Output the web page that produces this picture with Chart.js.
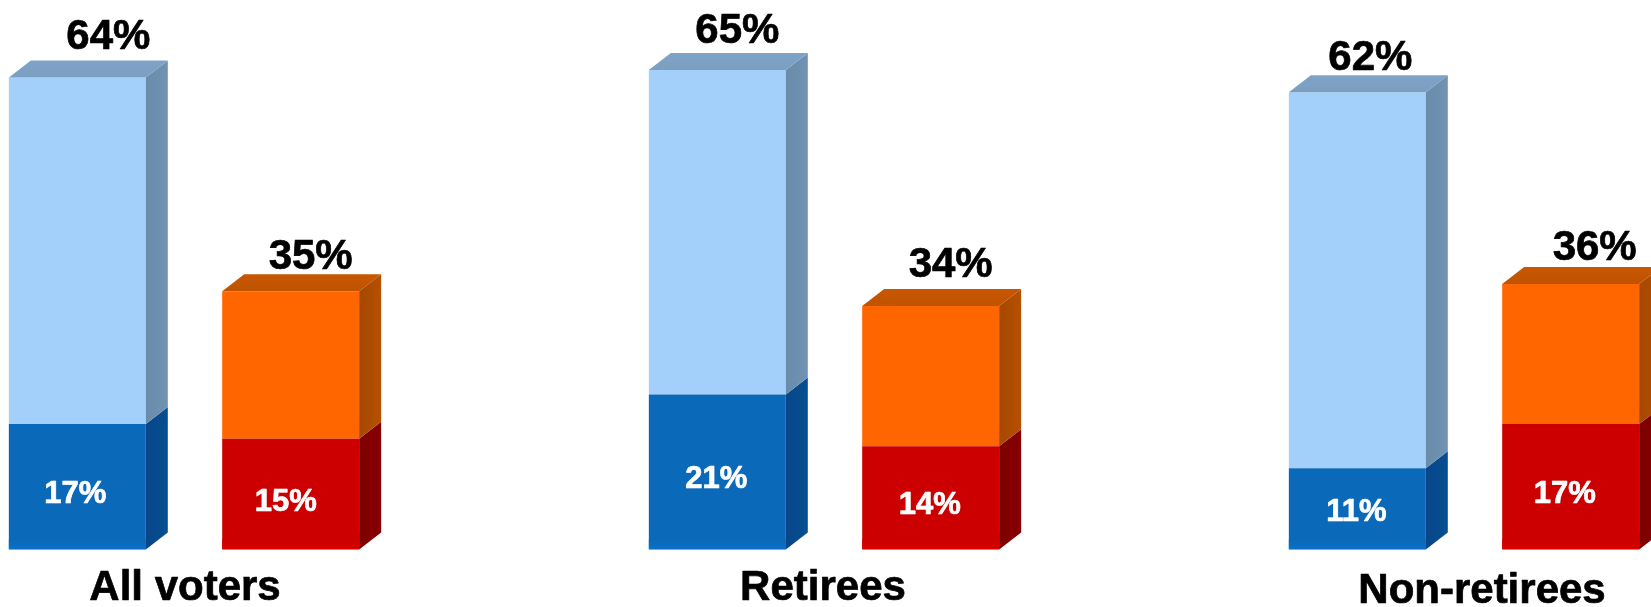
<!DOCTYPE html>
<html>
<head>
<meta charset="utf-8">
<title>Voters, retirees and non-retirees</title>
<script src="https://cdn.jsdelivr.net/npm/chart.js@4"></script>
<style>
    html, body { margin: 0; background: #fff; overflow: hidden; width: 1651px; height: 607px; }
    /* 3 slots of 640px: canvas is wider than the window so the last bar gets cut like the original */
    #chart { position: absolute; left: -136px; top: 0; }
</style>
</head>
<body>
<canvas id="chart" width="1920" height="607"></canvas>
<script>
const categories = ['All voters', 'Retirees', 'Non-retirees'];

// Bar segments as drawn
const blueStrong = [17, 21, 11];
const blueRest = [47, 44, 51];
const redStrong = [15, 14, 17];
const redRest = [20, 19, 19]; // the 34% bar stops a point short in the picture

// Printed totals above the bars
const blueTotals = [64, 65, 62];
const redTotals = [35, 34, 36];

// Small hand placed offsets of the printed labels, in px
const DEPTH_X = 22;
const DEPTH_Y = 17;
const totalNudge = {
    blue: [[31, -11], [20, -10], [13, -5]],
    red: [[20, -5], [20, -12], [24, -7]]
};
const innerNudge = {
    blue: [[-2, 8], [-1, 7], [-1, 4]],
    red: [[-5, 8], [-1, 8], [-6, 8]]
};
const categoryLabelPos = [[1, 600], [-1, 600], [18, 603]];

const faces = [
    { front: '#0a69b9', glow: '#0b70c8', side: ['#07468a', '#084e90'], top: ['#07498a', '#07498a'] },
    { front: '#a2d0fb', side: ['#6a8cab', '#7193b3'], top: ['#7ea3c8', '#7c9fc0'] },
    { front: '#cc0000', glow: '#d80200', side: ['#7c0000', '#880000'], top: ['#800000', '#800000'] },
    { front: '#ff6600', side: ['#a44800', '#b85000'], top: ['#c95700', '#bf5300'] }
];

const FONT = '"Liberation Sans", Arial, sans-serif';

function fillPoly(ctx, points, fill) {
    ctx.fillStyle = fill;
    ctx.beginPath();
    points.forEach((pt, n) => n ? ctx.lineTo(pt[0], pt[1]) : ctx.moveTo(pt[0], pt[1]));
    ctx.closePath();
    ctx.fill();
}

function ramp(ctx, x0, y0, x1, y1, from, to) {
    const g = ctx.createLinearGradient(x0, y0, x1, y1);
    g.addColorStop(0, from);
    g.addColorStop(1, to);
    return g;
}

// Chart.js has no 3D bars, so the side and top faces are added from the bar elements
const depthFaces = {
    id: 'depthFaces',
    afterDatasetsDraw(chart) {
        const ctx = chart.ctx;
        ctx.save();
        chart.data.datasets.forEach((ds, i) => {
            chart.getDatasetMeta(i).data.forEach(bar => {
                const p = bar.getProps(['x', 'y', 'base', 'width'], true);
                const x0 = p.x - p.width / 2;
                const x1 = p.x + p.width / 2;
                fillPoly(ctx, [
                    [x1, p.y], [x1 + DEPTH_X, p.y - DEPTH_Y],
                    [x1 + DEPTH_X, p.base - DEPTH_Y], [x1, p.base]
                ], ramp(ctx, x1, 0, x1 + DEPTH_X, 0, faces[i].side[0], faces[i].side[1]));
                if (i % 2 === 1) {
                    fillPoly(ctx, [
                        [x0, p.y], [x0 + DEPTH_X, p.y - DEPTH_Y],
                        [x1 + DEPTH_X, p.y - DEPTH_Y], [x1, p.y]
                    ], ramp(ctx, 0, p.y - DEPTH_Y, 0, p.y, faces[i].top[0], faces[i].top[1]));
                } else {
                    // brighter rim along the foot of the bar
                    ctx.fillStyle = ramp(ctx, 0, p.base - 10, 0, p.base, faces[i].front, faces[i].glow);
                    ctx.fillRect(x0, p.base - 10, p.width, 10);
                }
            });
        });
        ctx.restore();
    }
};

const barLabels = {
    id: 'barLabels',
    afterDraw(chart) {
        const ctx = chart.ctx;
        ctx.save();
        ctx.textAlign = 'center';
        ctx.lineJoin = 'round';

        const heavyText = (text, x, y, colour) => {
            ctx.fillStyle = colour;
            ctx.strokeStyle = colour;
            ctx.lineWidth = 0.7;
            ctx.fillText(text, x, y);
            ctx.strokeText(text, x, y);
        };

        const drawGroup = (key, innerIndex, topIndex, totals, strong) => {
            const inner = chart.getDatasetMeta(innerIndex).data;
            const top = chart.getDatasetMeta(topIndex).data;
            categories.forEach((c, k) => {
                ctx.font = 'bold 42px ' + FONT;
                ctx.textBaseline = 'alphabetic';
                heavyText(totals[k] + '%', top[k].x + totalNudge[key][k][0], top[k].y - DEPTH_Y + totalNudge[key][k][1], '#000');

                ctx.font = 'bold 31px ' + FONT;
                ctx.textBaseline = 'middle';
                heavyText(strong[k] + '%', inner[k].x + innerNudge[key][k][0], (inner[k].y + inner[k].base) / 2 + innerNudge[key][k][1], '#fff');
            });
        };
        drawGroup('blue', 0, 1, blueTotals, blueStrong);
        drawGroup('red', 2, 3, redTotals, redStrong);

        const xScale = chart.scales.x;
        ctx.font = 'bold 42px ' + FONT;
        ctx.textBaseline = 'alphabetic';
        categories.forEach((c, k) => {
            heavyText(c, xScale.getPixelForTick(k) + categoryLabelPos[k][0], categoryLabelPos[k][1], '#000');
        });
        ctx.restore();
    }
};

new Chart(document.getElementById('chart'), {
    type: 'bar',
    data: {
        labels: categories,
        datasets: [
            { label: 'Blue strong', data: blueStrong, stack: 'blue', backgroundColor: faces[0].front },
            { label: 'Blue other', data: blueRest, stack: 'blue', backgroundColor: faces[1].front },
            { label: 'Red strong', data: redStrong, stack: 'red', backgroundColor: faces[2].front },
            { label: 'Red other', data: redRest, stack: 'red', backgroundColor: faces[3].front }
        ]
    },
    options: {
        responsive: false,
        animation: false,
        categoryPercentage: 0.6667,
        barPercentage: 0.642,
        layout: { padding: { bottom: 57.6 } },
        plugins: { legend: { display: false }, tooltip: { enabled: false } },
        scales: {
            x: { display: false, stacked: true },
            y: { display: false, stacked: true, min: 0, max: 74.5 }
        }
    },
    plugins: [depthFaces, barLabels]
});
</script>
</body>
</html>
